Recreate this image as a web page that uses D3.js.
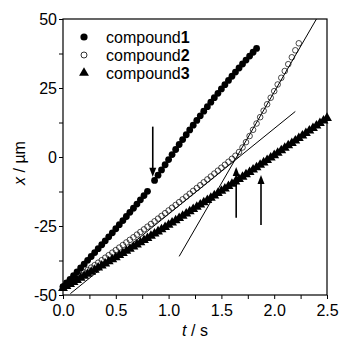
<!DOCTYPE html>
<html>
<head>
<meta charset="utf-8">
<script src="https://cdn.jsdelivr.net/npm/d3@7"></script>
<style>
  body { margin: 0; background: #fff; }
  svg text { font-family: "Liberation Sans", Arial, sans-serif; fill: #000; }
</style>
</head>
<body>
<svg id="chart" width="339" height="343"></svg>
<script>
// frame times (s), shared by all three series
const time = [0, 0.033, 0.067, 0.1, 0.133, 0.167, 0.2, 0.233, 0.267, 0.3, 0.333, 0.367, 0.4, 0.433, 0.467,
  0.5, 0.533, 0.567, 0.6, 0.633, 0.667, 0.7, 0.733, 0.767, 0.8, 0.833, 0.867, 0.9, 0.933, 0.967,
  1, 1.033, 1.067, 1.1, 1.133, 1.167, 1.2, 1.233, 1.267, 1.3, 1.333, 1.367, 1.4, 1.433, 1.467,
  1.5, 1.533, 1.567, 1.6, 1.633, 1.667, 1.7, 1.733, 1.767, 1.8, 1.833, 1.867, 1.9, 1.933, 1.967,
  2, 2.033, 2.067, 2.1, 2.133, 2.167, 2.2, 2.233, 2.267, 2.3, 2.333, 2.367, 2.4, 2.433, 2.467, 2.5];

// displacement x (µm); null = no frame
const compound1 = [-47.0, -45.66, -44.32, -42.96, -41.60, -40.22, -38.84, -37.45, -36.05, -34.64,
  -33.22, -31.80, -30.36, -28.92, -27.46, -26.0, -24.53, -23.05, -21.56, -20.06,
  -18.56, -17.04, -15.52, -13.98, -12.44, null, -8.5, -6.58, -4.69, -2.81,
  -0.95, 0.89, 2.72, 4.52, 6.30, 8.07, 9.81, 11.54, 13.24, 14.93,
  16.60, 18.25, 19.88, 21.49, 23.08, 24.66, 26.21, 27.75, 29.26, 30.76,
  32.24, 33.69, 35.13, 36.55, 37.95, 39.34];

const compound2 = [-47.0, -46.15, -45.30, -44.44, -43.57, -42.71, -41.83, -40.95, -40.07, -39.18,
  -38.29, -37.39, -36.48, -35.57, -34.66, -33.74, -32.82, -31.89, -30.96, -30.02,
  -29.08, -28.13, -27.17, -26.22, -25.25, -24.28, -23.31, -22.33, -21.35, -20.36,
  -19.37, -18.37, -17.37, -16.36, -15.35, -14.33, -13.31, -12.28, -11.25, -10.21,
  -9.17, -8.12, -7.07, -6.01, -4.95, -3.88, -2.81, -1.73, -0.65, 0.46,
  1.81, 3.45, 5.39, 7.60, 9.86, 12.13, 14.43, 16.76, 19.10, 21.47,
  23.86, 26.27, 28.70, 31.16, 33.63, 36.13, 38.66, 41.20];

const compound3 = [-47.50, -46.78, -46.05, -45.32, -44.58, -43.85, -43.11, -42.37, -41.62, -40.88,
  -40.13, -39.38, -38.62, -37.87, -37.11, -36.35, -35.58, -34.81, -34.05, -33.27,
  -32.50, -31.72, -30.94, -30.16, -29.38, -28.59, -27.80, -27.01, -26.21, -25.41,
  -24.61, -23.81, -23.00, -22.19, -21.38, -20.57, -19.75, -18.93, -18.11, -17.29,
  -16.46, -15.63, -14.80, -13.97, -13.13, -12.29, -11.45, -10.60, -9.75, -8.90,
  -8.05, -7.19, -6.33, -5.47, -4.61, -3.75, -2.88, -2.01, -1.13, -0.26,
  0.62, 1.50, 2.39, 3.27, 4.16, 5.05, 5.95, 6.84, 7.74, 8.65,
  9.55, 10.46, 11.37, 12.28, 13.19, 14.11];

// straight fits for compound 2: [t0, x0, t1, x1]
const fitLines = [[0.07, -49.5, 2.2, 16.5], [1.1, -36, 2.4, 50]];
// arrows: [t, xTail, xHead]
const arrows = [[0.85, 11, -7.2], [1.64, -22, -3.6], [1.875, -24.6, -6.5]];

const xTicks = [0, 0.5, 1, 1.5, 2, 2.5];
const yTicks = [-50, -25, 0, 25, 50];
const legendNames = ['1', '2', '3'];

const svg = d3.select('#chart');
const margin = { left: 63, right: 12, top: 19, bottom: 48 };
const W = 339, H = 343;

const x = d3.scaleLinear().domain([0, 2.5]).range([margin.left, W - margin.right]);
const y = d3.scaleLinear().domain([-50, 50]).range([H - margin.bottom, margin.top]);

// frame
svg.append('rect')
  .attr('x', x(0)).attr('y', y(50))
  .attr('width', x(2.5) - x(0)).attr('height', y(-50) - y(50))
  .attr('fill', 'none').attr('stroke', '#000').attr('stroke-width', 1.2);

// axes
const xAxis = svg.append('g')
  .attr('transform', `translate(0,${y(-50)})`)
  .call(d3.axisBottom(x).tickValues(d3.range(0, 2.51, 0.25)).tickSize(4)
    .tickFormat(d => xTicks.some(v => Math.abs(v - d) < 1e-6) ? d3.format('.1f')(d) : ''));
const yAxis = svg.append('g')
  .attr('transform', `translate(${x(0)},0)`)
  .call(d3.axisLeft(y).tickValues(d3.range(-50, 50.1, 12.5)).tickSize(4)
    .tickFormat(d => yTicks.includes(d) ? d : ''));

[xAxis, yAxis].forEach(g => {
  g.select('.domain').remove();
  g.selectAll('line').attr('stroke', '#000');
  g.selectAll('text').style('font-size', '16px').style('font-family', '"Liberation Sans", Arial, sans-serif');
});
xAxis.selectAll('text').attr('dy', '0.9em');
yAxis.selectAll('text').attr('x', -6);

// axis titles
const yTitle = svg.append('text')
  .attr('transform', `translate(25,${(y(50) + y(-50)) / 2 + 6}) rotate(-90)`)
  .attr('text-anchor', 'middle').style('font-size', '16px');
yTitle.append('tspan').style('font-style', 'italic').text('x');
yTitle.append('tspan').text(' / µm');

const xTitle = svg.append('text')
  .attr('x', (x(0) + x(2.5)) / 2).attr('y', 336)
  .attr('text-anchor', 'middle').style('font-size', '16px');
xTitle.append('tspan').style('font-style', 'italic').text('t');
xTitle.append('tspan').text(' / s');

// fit lines
svg.append('g').selectAll('line')
  .data(fitLines).join('line')
  .attr('x1', d => x(d[0])).attr('y1', d => y(d[1]))
  .attr('x2', d => x(d[2])).attr('y2', d => y(d[3]))
  .attr('stroke', '#000').attr('stroke-width', 1);

const pts = arr => arr.map((v, i) => ({ t: time[i], v })).filter(d => d.v !== null);
const tri = d3.symbol().type(d3.symbolTriangle).size(42);

// compound 3 (triangles)
svg.append('g').selectAll('path')
  .data(pts(compound3)).join('path')
  .attr('d', tri)
  .attr('transform', d => `translate(${x(d.t)},${y(d.v)})`)
  .attr('fill', '#000');

// compound 2 (open circles)
svg.append('g').selectAll('circle')
  .data(pts(compound2)).join('circle')
  .attr('cx', d => x(d.t)).attr('cy', d => y(d.v)).attr('r', 2.8)
  .attr('fill', 'none').attr('stroke', '#000').attr('stroke-width', 0.7);

// compound 1 (filled circles)
svg.append('g').selectAll('circle')
  .data(pts(compound1)).join('circle')
  .attr('cx', d => x(d.t)).attr('cy', d => y(d.v)).attr('r', 3.4)
  .attr('fill', '#000');

// arrows
const arrowG = svg.append('g');
arrows.forEach(([t, a, b]) => {
  const dir = b > a ? -1 : 1; // pixel direction of the head
  arrowG.append('line')
    .attr('x1', x(t)).attr('y1', y(a))
    .attr('x2', x(t)).attr('y2', y(b) - dir * 7)
    .attr('stroke', '#000').attr('stroke-width', 1.6);
  arrowG.append('path')
    .attr('d', `M${x(t)},${y(b)} l-3.5,${-dir * 9} l7,0 z`)
    .attr('fill', '#000');
});

// legend
const legend = svg.append('g').attr('transform', 'translate(84,37)');
legendNames.forEach((n, i) => {
  const row = legend.append('g').attr('transform', `translate(0,${i * 18})`);
  if (i === 0) row.append('circle').attr('r', 3.6).attr('fill', '#000');
  if (i === 1) row.append('circle').attr('r', 3).attr('fill', 'none').attr('stroke', '#000').attr('stroke-width', 0.8);
  if (i === 2) row.append('path').attr('d', d3.symbol().type(d3.symbolTriangle).size(42)).attr('fill', '#000');
  const label = row.append('text').attr('x', 22).attr('y', 6).style('font-size', '16px');
  label.append('tspan').text('compound');
  label.append('tspan').style('font-weight', 'bold').text(n);
});
</script>
</body>
</html>
